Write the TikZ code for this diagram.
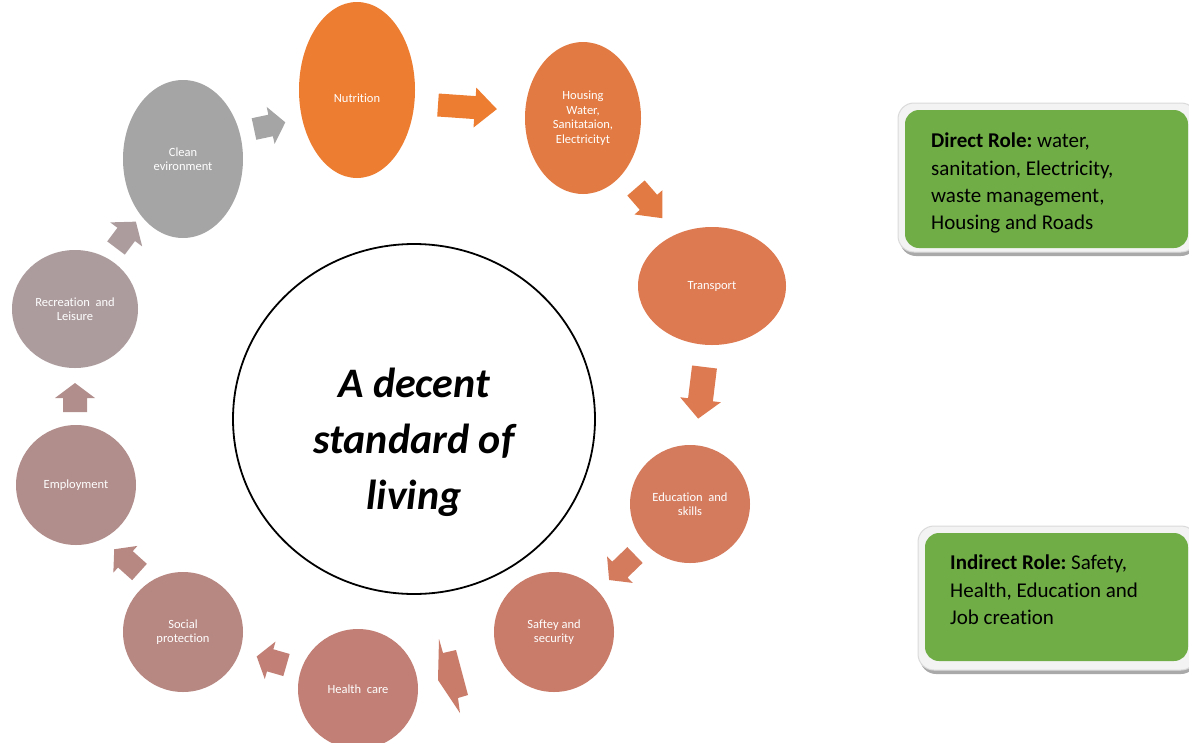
\documentclass[tikz,border=0pt]{standalone}
\usepackage{fontspec}
\setmainfont{Carlito}[Ligatures=NoCommon]
\frenchspacing
\usetikzlibrary{shapes.geometric}
\definecolor{cNut}{HTML}{ED7D31}
\definecolor{cHou}{HTML}{E27B43}
\definecolor{cTra}{HTML}{DD7A52}
\definecolor{cEdu}{HTML}{D47B5E}
\definecolor{cSaf}{HTML}{C97C6A}
\definecolor{cHea}{HTML}{C17F75}
\definecolor{cSoc}{HTML}{B78782}
\definecolor{cEmp}{HTML}{B18E8C}
\definecolor{cRec}{HTML}{AD9C9E}
\definecolor{cCle}{HTML}{A5A5A5}
\definecolor{cGreen}{HTML}{70AD47}
\definecolor{cFrame}{HTML}{F3F3F3}
\definecolor{cFrameLine}{HTML}{DADADA}
\definecolor{cShadow}{HTML}{A9A9A9}
% block arrow: color, tail x, tail y, angle, length, body width, head width, head length
\newcommand\blockarr[8]{%
  \fill[#1, shift={(#2,#3)}, rotate=#4]
    (0,{-#6/2}) -- ({#5-#8},{-#6/2}) -- ({#5-#8},{-#7/2}) -- (#5,0)
    -- ({#5-#8},{#7/2}) -- ({#5-#8},{#6/2}) -- (0,{#6/2}) -- cycle;}
\begin{document}
\begin{tikzpicture}[x=1pt,y=-1pt,
  cyc/.style={ellipse, inner sep=0pt, text=white, align=center,
    font=\fontsize{12.5}{14.5}\selectfont},
  frame/.style={rounded corners=16pt, fill=cFrame, draw=cFrameLine, line width=1pt},
  shadowbox/.style={rounded corners=16pt, fill=cShadow},
  greenbox/.style={rounded corners=14pt, fill=cGreen},
  boxtext/.style={anchor=north west, inner sep=0pt, align=left,
    font=\fontsize{21}{27.3}\selectfont, text=black}
]
\useasboundingbox (0,0) rectangle (1189,742);

% central circle
\node[ellipse, draw=black, line width=1.8pt, minimum width=362pt, minimum height=350pt, inner sep=0pt] (hub) at (414,419) {};
\node[align=center, inner sep=0pt, font=\fontsize{42}{56}\selectfont\bfseries\itshape] (hubtext) at (414,442)
  {A decent\\standard of\\living};

% cycle nodes
\node[cyc, fill=cNut, minimum width=116pt, minimum height=176pt] (nut) at (357,90) {\raisebox{-12pt}[0pt][0pt]{Nutrition}};
\node[cyc, fill=cHou, minimum width=116pt, minimum height=152pt] (hou) at (583,118) {Housing\\Water,\\Sanitataion,\\Electricityt};
\node[cyc, fill=cTra, minimum width=148pt, minimum height=118pt] (tra) at (712,286) {Transport};
\node[cyc, fill=cEdu, minimum width=120pt, minimum height=118pt] (edu) at (690,504) {Education~~and\\skills};
\node[cyc, fill=cSaf, minimum width=120pt, minimum height=120pt] (saf) at (554,632) {Saftey and\\security};
\node[cyc, fill=cHea, minimum width=120pt, minimum height=120pt] (hea) at (358,689) {Health~~care};
\node[cyc, fill=cSoc, minimum width=120pt, minimum height=120pt] (soc) at (183,632) {Social\\protection};
\node[cyc, fill=cEmp, minimum width=120pt, minimum height=120pt] (emp) at (76,485) {Employment};
\node[cyc, fill=cRec, minimum width=126pt, minimum height=118pt] (rec) at (75,309) {Recreation~~and\\Leisure};
\node[cyc, fill=cCle, minimum width=120pt, minimum height=158pt] (cle) at (183,159) {Clean\\evironment};

% block arrows
\blockarr{cCle}{254}{129}{12}{32}{22}{38}{15}
\blockarr{cNut}{438}{105}{-4}{59}{23}{40}{22}
\blockarr{cHou}{636}{188}{-49}{40}{23}{37}{21}
\blockarr{cTra}{704.5}{367}{-97}{52}{25}{41}{19}
\blockarr{cEdu}{635}{555}{-136}{36}{22}{37}{15}
\fill[cSaf] (439,639) -- (443,653) -- (456,650) -- (468,695) -- (458,698) -- (460,713) -- (438,680) -- cycle;
\blockarr{cHea}{286.5}{665}{164}{31}{23}{39}{14}
\blockarr{cSoc}{139.5}{572}{138}{34}{22}{36}{15}
\blockarr{cEmp}{75}{412}{90}{29}{24}{40}{15}
\blockarr{cRec}{116}{248}{53}{33}{22}{40}{16}

% role boxes
\fill[shadowbox] (900,107) rectangle (1197,256);
\draw[frame] (898,103) rectangle (1197,252);
\fill[greenbox] (905,110) rectangle (1188,248);
\node[boxtext] (direct) at (931,133)
  {\textbf{Direct Role:} water,\\sanitation, Electricity,\\waste management,\\Housing and Roads};

\fill[shadowbox] (920,530) rectangle (1197,674);
\draw[frame] (918,526) rectangle (1197,670);
\fill[greenbox] (925,533) rectangle (1188,661);
\node[boxtext] (indirect) at (950,555)
  {\textbf{Indirect Role:} Safety,\\Health, Education and\\Job creation};
\end{tikzpicture}
\end{document}
